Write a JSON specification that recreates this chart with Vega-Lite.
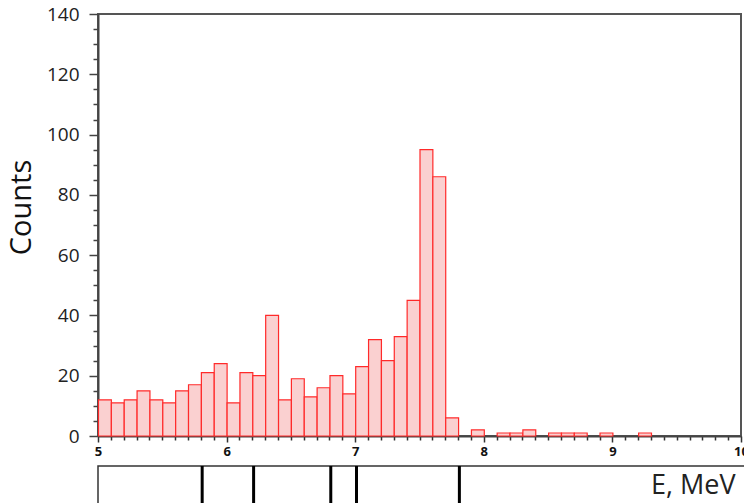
{
  "$schema": "https://vega.github.io/schema/vega-lite/v6.json",
  "background": "white",
  "padding": {"left": 6, "top": 4, "right": 0, "bottom": 0},
  "config": {"font": "Open Sans", "view": {"stroke": null}},
  "spacing": 4,
  "vconcat": [
    {
      "width": 643,
      "height": 422,
      "view": {"stroke": "#555", "strokeWidth": 2},
      "data": {
        "values": [
          {"E": 5.0, "E_end": 5.1, "Counts": 12},
          {"E": 5.1, "E_end": 5.2, "Counts": 11},
          {"E": 5.2, "E_end": 5.3, "Counts": 12},
          {"E": 5.3, "E_end": 5.4, "Counts": 15},
          {"E": 5.4, "E_end": 5.5, "Counts": 12},
          {"E": 5.5, "E_end": 5.6, "Counts": 11},
          {"E": 5.6, "E_end": 5.7, "Counts": 15},
          {"E": 5.7, "E_end": 5.8, "Counts": 17},
          {"E": 5.8, "E_end": 5.9, "Counts": 21},
          {"E": 5.9, "E_end": 6.0, "Counts": 24},
          {"E": 6.0, "E_end": 6.1, "Counts": 11},
          {"E": 6.1, "E_end": 6.2, "Counts": 21},
          {"E": 6.2, "E_end": 6.3, "Counts": 20},
          {"E": 6.3, "E_end": 6.4, "Counts": 40},
          {"E": 6.4, "E_end": 6.5, "Counts": 12},
          {"E": 6.5, "E_end": 6.6, "Counts": 19},
          {"E": 6.6, "E_end": 6.7, "Counts": 13},
          {"E": 6.7, "E_end": 6.8, "Counts": 16},
          {"E": 6.8, "E_end": 6.9, "Counts": 20},
          {"E": 6.9, "E_end": 7.0, "Counts": 14},
          {"E": 7.0, "E_end": 7.1, "Counts": 23},
          {"E": 7.1, "E_end": 7.2, "Counts": 32},
          {"E": 7.2, "E_end": 7.3, "Counts": 25},
          {"E": 7.3, "E_end": 7.4, "Counts": 33},
          {"E": 7.4, "E_end": 7.5, "Counts": 45},
          {"E": 7.5, "E_end": 7.6, "Counts": 95},
          {"E": 7.6, "E_end": 7.7, "Counts": 86},
          {"E": 7.7, "E_end": 7.8, "Counts": 6},
          {"E": 7.9, "E_end": 8.0, "Counts": 2},
          {"E": 8.1, "E_end": 8.2, "Counts": 1},
          {"E": 8.2, "E_end": 8.3, "Counts": 1},
          {"E": 8.3, "E_end": 8.4, "Counts": 2},
          {"E": 8.5, "E_end": 8.6, "Counts": 1},
          {"E": 8.6, "E_end": 8.7, "Counts": 1},
          {"E": 8.7, "E_end": 8.8, "Counts": 1},
          {"E": 8.9, "E_end": 9.0, "Counts": 1},
          {"E": 9.2, "E_end": 9.3, "Counts": 1}
        ]
      },
      "mark": {"type": "bar", "fill": "#fad0d0", "stroke": "#ff2a2a", "strokeWidth": 1.2, "binSpacing": 0},
      "encoding": {
        "x": {
          "field": "E",
          "type": "quantitative",
          "bin": {"binned": true, "step": 0.1},
          "scale": {"domain": [5, 10], "nice": false, "zero": false},
          "axis": {
            "title": null,
            "grid": false,
            "values": [5, 5.1, 5.2, 5.3, 5.4, 5.5, 5.6, 5.7, 5.8, 5.9, 6, 6.1, 6.2, 6.3, 6.4, 6.5, 6.6, 6.7, 6.8, 6.9, 7, 7.1, 7.2, 7.3, 7.4, 7.5, 7.6, 7.7, 7.8, 7.9, 8, 8.1, 8.2, 8.3, 8.4, 8.5, 8.6, 8.7, 8.8, 8.9, 9, 9.1, 9.2, 9.3, 9.4, 9.5, 9.6, 9.7, 9.8, 9.9, 10],
            "labelExpr": "abs(datum.value - round(datum.value)) < 0.001 ? format(datum.value, 'd') : ''",
            "labelOverlap": false,
            "labelFlush": false,
            "labelFontWeight": "bold",
            "labelFontSize": 13,
            "labelColor": "#111",
            "labelPadding": 3,
            "tickColor": "#333",
            "tickWidth": 1.5,
            "tickSize": {"condition": {"test": "abs(datum.value - round(datum.value)) < 0.001", "value": 6}, "value": 4},
            "domainColor": "#444",
            "domainWidth": 2
          }
        },
        "x2": {"field": "E_end"},
        "y": {
          "field": "Counts",
          "type": "quantitative",
          "scale": {"domain": [0, 140], "nice": false},
          "axis": {
            "title": "Counts",
            "titleFontSize": 29,
            "titleFontWeight": "normal",
            "titleColor": "#111",
            "titlePadding": 10,
            "titleY": 193,
            "grid": false,
            "values": [0, 5, 10, 15, 20, 25, 30, 35, 40, 45, 50, 55, 60, 65, 70, 75, 80, 85, 90, 95, 100, 105, 110, 115, 120, 125, 130, 135, 140],
            "labelExpr": "datum.value % 20 === 0 ? datum.label : ''",
            "labelOverlap": false,
            "labelFlush": false,
            "labelFontSize": 19,
            "labelColor": "#222",
            "labelPadding": 10,
            "tickColor": "#444",
            "tickWidth": 1.5,
            "tickSize": {"condition": {"test": "datum.value % 20 === 0", "value": 9}, "value": 5},
            "domainColor": "#444",
            "domainWidth": 2
          }
        }
      }
    },
    {
      "width": 660,
      "height": 60,
      "view": {"stroke": "#333", "strokeWidth": 1.5},
      "data": {
        "values": [
          {"E": 5.81},
          {"E": 6.21},
          {"E": 6.81},
          {"E": 7.01},
          {"E": 7.81}
        ]
      },
      "mark": {"type": "rule", "color": "black", "strokeWidth": 3},
      "encoding": {
        "x": {
          "field": "E",
          "type": "quantitative",
          "scale": {"domain": [5, 10.132], "nice": false, "zero": false},
          "axis": {
            "orient": "top",
            "title": "E, MeV",
            "labels": false,
            "ticks": false,
            "domain": false,
            "grid": false,
            "titleX": 637,
            "titleY": 19,
            "titleAlign": "right",
            "titleBaseline": "middle",
            "titleFontSize": 27,
            "titleFontWeight": "normal",
            "titleColor": "#222"
          }
        }
      }
    }
  ]
}
